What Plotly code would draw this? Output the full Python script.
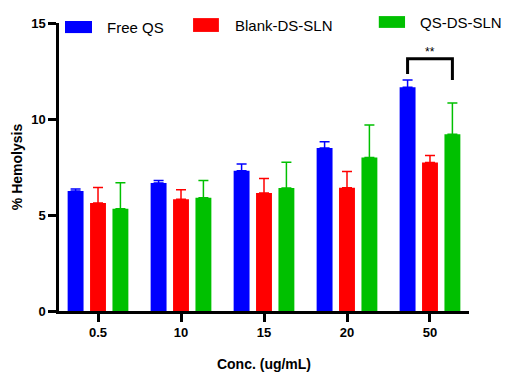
import plotly.graph_objects as go

categories = ["0.5", "10", "15", "20", "50"]
series_names = ["Free QS", "Blank-DS-SLN", "QS-DS-SLN"]
free_qs = [6.25, 6.67, 7.30, 8.49, 11.65]
free_qs_err = [0.10, 0.13, 0.35, 0.33, 0.38]
blank_ds = [5.63, 5.82, 6.15, 6.42, 7.74]
blank_ds_err = [0.80, 0.50, 0.75, 0.84, 0.36]
qs_ds = [5.33, 5.90, 6.40, 8.00, 9.20]
qs_ds_err = [1.35, 0.90, 1.35, 1.69, 1.63]
colors = ["#0000FF", "#FF0000", "#00C000"]
y_ticks = [0, 5, 10, 15]

FONT = "Liberation Sans, Arial, sans-serif"
xs = list(range(len(categories)))

fig = go.Figure()
for name, vals, errs, col in zip(series_names, [free_qs, blank_ds, qs_ds],
                                 [free_qs_err, blank_ds_err, qs_ds_err], colors):
    fig.add_trace(go.Bar(
        x=xs, y=vals, name=name, marker=dict(color=col, line=dict(width=0)),
        error_y=dict(type="data", array=errs, arrayminus=[0]*len(errs), symmetric=False,
                     color=col, thickness=1.5, width=5),
        showlegend=False,
    ))

fig.update_layout(
    width=521, height=374,
    margin=dict(l=59, r=52, t=23, b=63, autoexpand=False),
    paper_bgcolor="white", plot_bgcolor="white",
    barmode="group", bargap=0.19, bargroupgap=0.29,
    font=dict(family=FONT, color="black"),
)
fig.update_xaxes(
    automargin=False,
    tickmode="array", tickvals=xs, ticktext=[f"<b>{c}</b>" for c in categories],
    range=[-0.47, 4.47], showline=True, linecolor="black", linewidth=2.5,
    ticks="outside", ticklen=8, tickwidth=2.5, tickcolor="black",
    tickfont=dict(size=13, family=FONT), showgrid=False, zeroline=False,
    title=dict(text="<b>Conc. (ug/mL)</b>", font=dict(size=14, family=FONT), standoff=20),
)
fig.update_yaxes(
    automargin=False,
    range=[0, 15], tickvals=y_ticks, ticktext=[f"<b>{t}</b>" for t in y_ticks],
    showline=True, linecolor="black", linewidth=2.5,
    ticks="outside", ticklen=8, tickwidth=2.5, tickcolor="black",
    tickfont=dict(size=13, family=FONT), showgrid=False, zeroline=False,
    title=dict(text="<b>% Hemolysis</b>", font=dict(size=14, family=FONT), standoff=6),
)

# significance bracket between Free QS and QS-DS-SLN at 50
slot = (1 - 0.19) / 3
xl = 4 - slot
xr = 4 + slot
fig.add_shape(type="path", xref="x", yref="y",
              path=f"M {xl},12.34 L {xl},13.14 L {xr},13.14 L {xr},12.03",
              line=dict(color="black", width=3))
fig.add_annotation(x=4, y=13.14, xref="x", yref="y", text="**", showarrow=False,
                   yanchor="bottom", yshift=-2, font=dict(size=12, family=FONT))

# custom legend
leg = [(0.0146, 0.0805, 0.965, 1.007, 0.112, 0.986),
       (0.327, 0.390, 0.969, 1.017, 0.424, 0.993),
       (0.780, 0.844, 0.983, 1.024, 0.876, 1.003)]
for (x0, x1, y0, y1, tx, ty), name, col in zip(leg, series_names, colors):
    fig.add_shape(type="rect", xref="paper", yref="paper", x0=x0, x1=x1, y0=y0, y1=y1,
                  fillcolor=col, line=dict(width=0))
    fig.add_annotation(x=tx, y=ty, xref="paper", yref="paper", text=name, showarrow=False,
                       xanchor="left", yanchor="middle", font=dict(size=15, family=FONT))

fig.write_html("out.html")
